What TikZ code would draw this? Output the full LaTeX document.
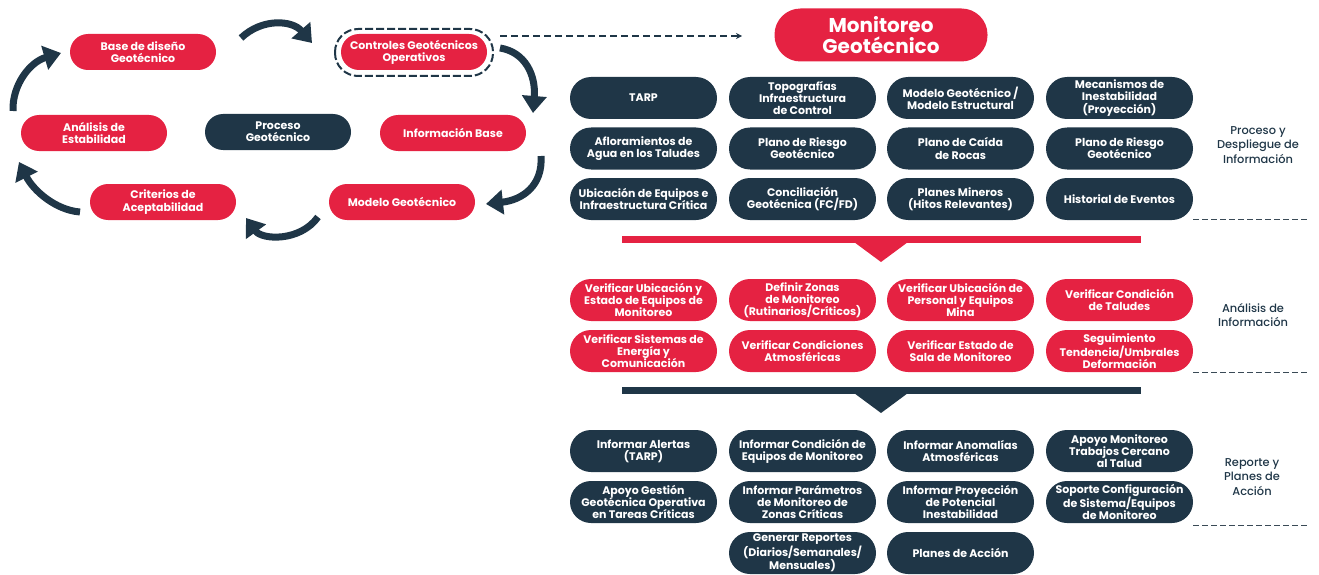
\documentclass[tikz,border=0pt]{standalone}
\usepackage{fontspec}
\setmainfont{Poppins}
\newfontfamily\pmedium{Poppins Medium}
\usetikzlibrary{arrows.meta}
\definecolor{cred}{HTML}{E52242}
\definecolor{cnavy}{HTML}{1F3647}
\definecolor{cgray}{HTML}{3A4A56}
\begin{document}
\begin{tikzpicture}[x=1pt,y=-1pt,
  pill/.style={rounded corners=18pt, minimum width=146pt, minimum height=36pt, inner sep=0pt,
    align=center, text=white, font=\bfseries\fontsize{11}{12.2}\selectfont},
  redpill/.style={pill, fill=cred},
  navypill/.style={pill, fill=cnavy},
  gridpill/.style={pill, rounded corners=21pt, minimum width=147pt, minimum height=42pt},
  redcell/.style={gridpill, fill=cred},
  navycell/.style={gridpill, fill=cnavy},
  cyc/.style={draw=cnavy, line width=7pt, -{Triangle[width=24pt,length=17pt]}},
  sidelabel/.style={align=center, text=cnavy, font=\pmedium\fontsize{11.4}{14.2}\selectfont},
  sep/.style={draw=cgray, line width=1pt, dash pattern=on 6pt off 3pt}
]
\useasboundingbox (0,0) rectangle (1319,575);

% ---------- cycle ----------
\node[redpill] (base) at (143,52) {Base de diseño\\Geotécnico};
\node[redpill] (ctrl) at (414,52) {Controles Geotécnicos\\Operativos};
\node[redpill] (anal) at (94,133) {Análisis de\\Estabilidad};
\node[navypill] (proc) at (278,132) {Proceso\\Geotécnico};
\node[redpill] (info) at (453,133) {Información Base};
\node[redpill] (crit) at (163,202) {Criterios de\\Aceptabilidad};
\node[redpill] (mod) at (402,202) {Modelo Geotécnico};

\draw[draw=cnavy, line width=2pt, dash pattern=on 8pt off 3pt, rounded corners=23pt]
  (335,29) rectangle (493,76);

\coordinate (a1s) at (241,38); \coordinate (a1e) at (312,43);
\coordinate (a2s) at (500,48); \coordinate (a2e) at (533,113);
\coordinate (a3s) at (541,156); \coordinate (a3e) at (486,204);
\coordinate (a4s) at (318,217); \coordinate (a4e) at (246,218);
\coordinate (a5s) at (80,212); \coordinate (a5e) at (19,162);
\coordinate (a6s) at (13,111); \coordinate (a6e) at (61,53);

\draw[cyc] (a1s) .. controls (262,18) and (292,20) .. (a1e);
\draw[cyc] (a2s) .. controls (525,52) and (536,75) .. (a2e);
\draw[cyc] (a3s) .. controls (543,186) and (522,200) .. (a3e);
\draw[cyc] (a4s) .. controls (300,242) and (262,240) .. (a4e);
\draw[cyc] (a5s) .. controls (55,210) and (33,190) .. (a5e);
\draw[cyc] (a6s) .. controls (12,85) and (30,62) .. (a6e);

% dashed arrow to monitoreo
\coordinate (dashend) at (742,36);
\draw[draw=cnavy, line width=1.3pt, dash pattern=on 7pt off 4pt, -{Stealth[length=6pt,width=6pt]}]
  (500,36) -- (dashend);

\node[fill=cred, rounded corners=26pt, minimum width=213pt, minimum height=53pt, inner sep=0pt,
  align=center, text=white, font=\bfseries\fontsize{20}{21.5}\selectfont] (mon) at (881,35)
  {Monitoreo\\Geotécnico};

% ---------- section 1 ----------
\node[navycell] (s11) at (643.5,98) {TARP};
\node[navycell] (s12) at (802.5,98) {Topografías\\Infraestructura\\de Control};
\node[navycell] (s13) at (960.5,98) {Modelo Geotécnico /\\Modelo Estructural};
\node[navycell] (s14) at (1119.5,98) {Mecanismos de\\Inestabilidad\\(Proyección)};
\node[navycell] (s21) at (643.5,148.5) {Afloramientos de\\Agua en los Taludes};
\node[navycell] (s22) at (802.5,148.5) {Plano de Riesgo\\Geotécnico};
\node[navycell] (s23) at (960.5,148.5) {Plano de Caída\\de Rocas};
\node[navycell] (s24) at (1119.5,148.5) {Plano de Riesgo\\Geotécnico};
\node[navycell] (s31) at (643.5,199) {Ubicación de Equipos e\\Infraestructura Crítica};
\node[navycell] (s32) at (802.5,199) {Conciliación\\Geotécnica (FC/FD)};
\node[navycell] (s33) at (960.5,199) {Planes Mineros\\(Hitos Relevantes)};
\node[navycell] (s34) at (1119.5,199) {Historial de Eventos};

\node[sidelabel] (lab1) at (1258,145) {Proceso y\\Despliegue de\\Información};
\draw[sep] (1193,219) -- (1309,219);

\fill[cred] (622,236) rectangle (1141,243);
\fill[cred] (854,242) -- (908,242) -- (881,262) -- cycle;

% ---------- section 2 ----------
\node[redcell] (r11) at (643.5,300) {Verificar Ubicación y\\Estado de Equipos de\\Monitoreo};
\node[redcell] (r12) at (802.5,300) {Definir Zonas\\de Monitoreo\\(Rutinarios/Críticos)};
\node[redcell] (r13) at (960.5,300) {Verificar Ubicación de\\Personal y Equipos\\Mina};
\node[redcell] (r14) at (1119.5,300) {Verificar Condición\\de Taludes};
\node[redcell] (r21) at (643.5,351) {Verificar Sistemas de\\Energía y\\Comunicación};
\node[redcell] (r22) at (802.5,351) {Verificar Condiciones\\Atmosféricas};
\node[redcell] (r23) at (960.5,351) {Verificar Estado de\\Sala de Monitoreo};
\node[redcell] (r24) at (1119.5,351) {Seguimiento\\Tendencia/Umbrales\\Deformación};

\node[sidelabel] (lab2) at (1253,315) {Análisis de\\Información};
\draw[sep] (1193,372) -- (1309,372);

\fill[cnavy] (622,387) rectangle (1141,394);
\fill[cnavy] (854,393) -- (908,393) -- (881,413) -- cycle;

% ---------- section 3 ----------
\node[navycell] (t11) at (643.5,451) {Informar Alertas\\(TARP)};
\node[navycell] (t12) at (802.5,451) {Informar Condición de\\Equipos de Monitoreo};
\node[navycell] (t13) at (960.5,451) {Informar Anomalías\\Atmosféricas};
\node[navycell] (t14) at (1119.5,451) {Apoyo Monitoreo\\Trabajos Cercano\\al Talud};
\node[navycell] (t21) at (643.5,502) {Apoyo Gestión\\Geotécnica Operativa\\en Tareas Críticas};
\node[navycell] (t22) at (802.5,502) {Informar Parámetros\\de Monitoreo de\\Zonas Críticas};
\node[navycell] (t23) at (960.5,502) {Informar Proyección\\de Potencial\\Inestabilidad};
\node[navycell] (t24) at (1119.5,502) {Soporte Configuración\\de Sistema/Equipos\\de Monitoreo};
\node[navycell] (t32) at (802.5,553) {Generar Reportes\\(Diarios/Semanales/\\Mensuales)};
\node[navycell] (t33) at (960.5,553) {Planes de Acción};

\node[sidelabel] (lab3) at (1252,477) {Reporte y\\Planes de\\Acción};
\draw[sep] (1193,525) -- (1309,525);

\end{tikzpicture}
\end{document}
